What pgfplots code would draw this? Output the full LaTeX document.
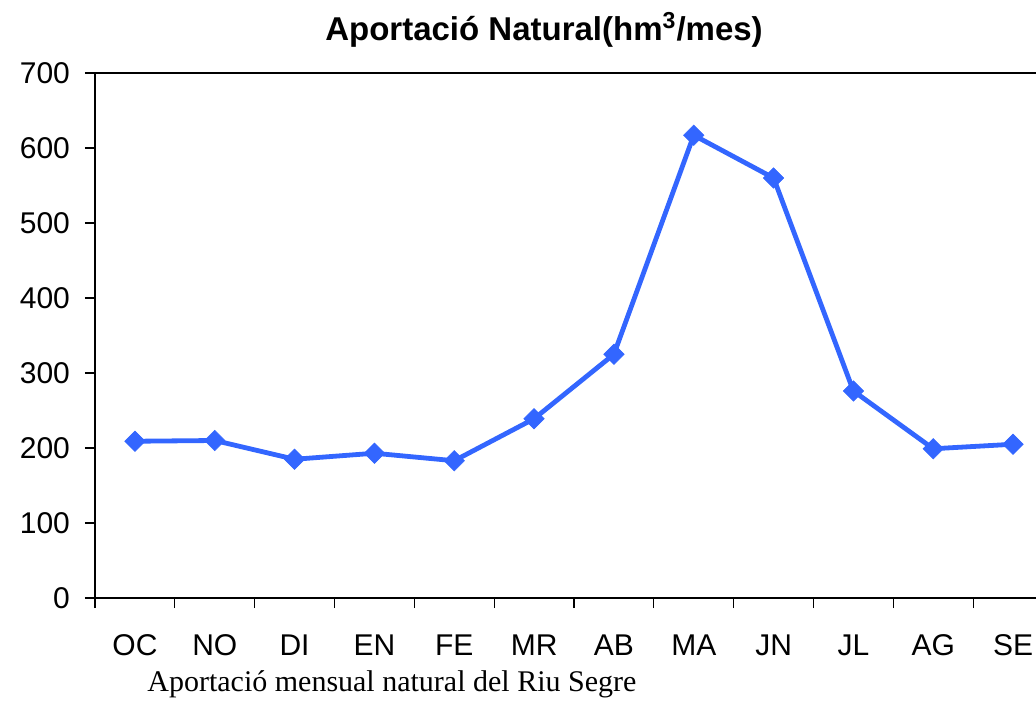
\documentclass[border=0pt]{standalone}
\usepackage{pgfplots}
\pgfplotsset{compat=1.18}
\usepackage{fontspec}
\setmainfont{Liberation Sans}
\newfontfamily\serifcap{Liberation Serif}
\definecolor{lineblue}{HTML}{3366FF}
\begin{document}
\begin{tikzpicture}
\begin{axis}[
  at={(0pt,0pt)}, anchor=south west,
  scale only axis,
  width=479pt, height=262.5pt,
  xmin=0.5, xmax=12.5,
  ymin=0, ymax=700,
  ytick={0,100,...,700},
  xtick={0.5,1.5,...,12.5},
  xticklabels={},
  xtick pos=bottom, ytick pos=left,
  extra x ticks={1,2,3,4,5,6,7,8,9,10,11,12},
  extra x tick labels={OC,NO,DI,EN,FE,MR,AB,MA,JN,JL,AG,SE},
  extra x tick style={major tick length=0pt, tick label style={yshift=-14pt, text height=11pt, text depth=0pt}},
  tick align=outside,
  major tick length=5pt,
  tick style={black, line width=0.6pt},
  axis line style={black, line width=0.8pt},
  tick label style={font=\fontsize{15}{18}\selectfont},
  /pgf/number format/assume math mode=true,
  y tick label style={xshift=-4pt},
  clip=false,
]
\addplot[color=lineblue, line width=2.4pt, mark=square*, mark size=3.6pt, mark options={rotate=45, fill=lineblue, draw=lineblue, line width=0.3pt}]
coordinates {
(1,209) (2,210) (3,185) (4,193) (5,183) (6,239) (7,325) (8,617) (9,560) (10,276) (11,199) (12,205)
};
\end{axis}
\node[font=\bfseries\fontsize{16.5}{19}\selectfont] at (224.5pt,284pt) {Aportació Natural(hm\textsuperscript{3}/mes)};
\node[anchor=west, inner sep=0pt, font=\serifcap\fontsize{15}{18}\selectfont] at (26pt,-43pt) {Aportació mensual natural del Riu Segre};
\pgfresetboundingbox
\useasboundingbox (-47.5pt,-51pt) rectangle (470.5pt,299pt);
\end{tikzpicture}
\end{document}
